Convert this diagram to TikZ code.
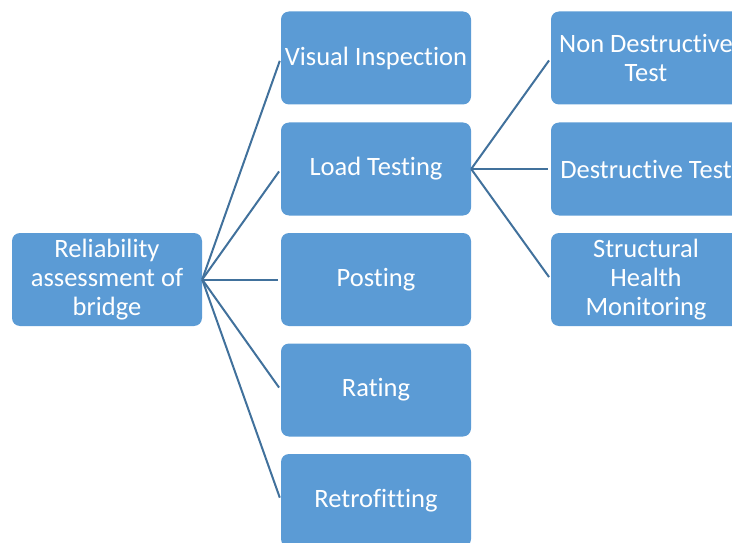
\documentclass[tikz,border=0pt]{standalone}
\usepackage{fontspec}
\setmainfont[Ligatures=NoCommon]{Carlito}
\definecolor{boxblue}{HTML}{5B9BD5}
\definecolor{lineblue}{HTML}{41719C}
\newcommand{\nl}{\kern0pt }
\begin{document}
\begin{tikzpicture}[x=1pt,y=-1pt,
  box/.style={fill=boxblue, draw=none, rounded corners=8pt, minimum width=190pt, minimum height=93pt,
    inner sep=2pt, text=white, align=center, font=\fontsize{26.5}{29}\selectfont},
  conn/.style={draw=lineblue, line width=2pt, shorten >=3pt}]
\useasboundingbox (0,0) rectangle (732,543);
\clip (0,0) rectangle (732,543);
\node[box] (root) at (107,279.5) {Reliability\\assessment of\\bridge};
\node[box] (vis) at (376,58) {Visual Inspect\nl ion};
\node[box] (load) at (376,169) {Load Test\nl ing};
\node[box] (post) at (376,279.5) {Post\nl ing};
\node[box] (rate) at (376,390) {Rat\nl ing};
\node[box] (retro) at (376,500.5) {Retrof\nl it\nl t\nl ing};
\node[box] (ndt) at (646,58) {Non Destruct\nl ive\\Test};
\node[box] (dt) at (646,169) {Destruct\nl ive Test};
\node[box] (shm) at (646,279.5) {Structural\\Health\\Monitoring};
\foreach \t in {vis,load,post,rate,retro}
  \draw[conn] (root.east) -- (\t.west);
\foreach \t in {ndt,dt,shm}
  \draw[conn] (load.east) -- (\t.west);
\end{tikzpicture}
\end{document}
